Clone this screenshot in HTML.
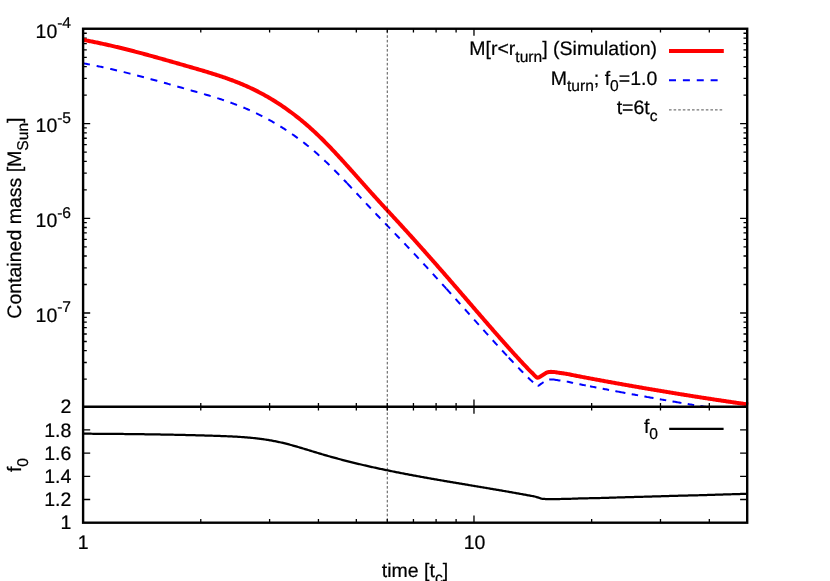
<!DOCTYPE html>
<html><head><meta charset="utf-8"><title>plot</title>
<style>
html,body{margin:0;padding:0;background:#fff;}
body{width:830px;height:581px;overflow:hidden;}
svg{display:block;will-change:transform;}
text{font-family:"Liberation Sans",sans-serif;font-size:19.5px;fill:#000;stroke:#000;stroke-width:0.22px;text-rendering:geometricPrecision;}
</style></head><body>
<svg width="830" height="581" viewBox="0 0 830 581">
<rect width="830" height="581" fill="#fff"/>
<clipPath id="c1"><rect x="83.1" y="28.75" width="667.1" height="377.95"/></clipPath>
<!-- ticks -->
<g stroke="#000" stroke-width="1.3" fill="none">
<path d="M83.10,28.75 v7.1 M83.10,399.60 v14.2 M83.10,522.7 v-7.1 M200.77,28.75 v3.7 M200.77,403.00 v7.4 M200.77,522.7 v-3.7 M269.60,28.75 v3.7 M269.60,403.00 v7.4 M269.60,522.7 v-3.7 M318.44,28.75 v3.7 M318.44,403.00 v7.4 M318.44,522.7 v-3.7 M356.32,28.75 v3.7 M356.32,403.00 v7.4 M356.32,522.7 v-3.7 M387.27,28.75 v3.7 M387.27,403.00 v7.4 M387.27,522.7 v-3.7 M413.44,28.75 v3.7 M413.44,403.00 v7.4 M413.44,522.7 v-3.7 M436.10,28.75 v3.7 M436.10,403.00 v7.4 M436.10,522.7 v-3.7 M456.10,28.75 v3.7 M456.10,403.00 v7.4 M456.10,522.7 v-3.7 M473.98,28.75 v7.1 M473.98,399.60 v14.2 M473.98,522.7 v-7.1 M591.65,28.75 v3.7 M591.65,403.00 v7.4 M591.65,522.7 v-3.7 M660.48,28.75 v3.7 M660.48,403.00 v7.4 M660.48,522.7 v-3.7 M709.32,28.75 v3.7 M709.32,403.00 v7.4 M709.32,522.7 v-3.7 M747.20,28.75 v3.7 M747.20,403.00 v7.4 M747.20,522.7 v-3.7 M83.1,123.60 h7.1 M747.2,123.60 h-7.1 M83.1,95.09 h3.7 M747.2,95.09 h-3.7 M83.1,78.42 h3.7 M747.2,78.42 h-3.7 M83.1,66.58 h3.7 M747.2,66.58 h-3.7 M83.1,57.41 h3.7 M747.2,57.41 h-3.7 M83.1,49.91 h3.7 M747.2,49.91 h-3.7 M83.1,43.57 h3.7 M747.2,43.57 h-3.7 M83.1,38.08 h3.7 M747.2,38.08 h-3.7 M83.1,33.23 h3.7 M747.2,33.23 h-3.7 M83.1,218.30 h7.1 M747.2,218.30 h-7.1 M83.1,189.79 h3.7 M747.2,189.79 h-3.7 M83.1,173.12 h3.7 M747.2,173.12 h-3.7 M83.1,161.28 h3.7 M747.2,161.28 h-3.7 M83.1,152.11 h3.7 M747.2,152.11 h-3.7 M83.1,144.61 h3.7 M747.2,144.61 h-3.7 M83.1,138.27 h3.7 M747.2,138.27 h-3.7 M83.1,132.78 h3.7 M747.2,132.78 h-3.7 M83.1,127.93 h3.7 M747.2,127.93 h-3.7 M83.1,313.00 h7.1 M747.2,313.00 h-7.1 M83.1,284.49 h3.7 M747.2,284.49 h-3.7 M83.1,267.82 h3.7 M747.2,267.82 h-3.7 M83.1,255.98 h3.7 M747.2,255.98 h-3.7 M83.1,246.81 h3.7 M747.2,246.81 h-3.7 M83.1,239.31 h3.7 M747.2,239.31 h-3.7 M83.1,232.97 h3.7 M747.2,232.97 h-3.7 M83.1,227.48 h3.7 M747.2,227.48 h-3.7 M83.1,222.63 h3.7 M747.2,222.63 h-3.7 M83.1,379.19 h3.7 M747.2,379.19 h-3.7 M83.1,362.52 h3.7 M747.2,362.52 h-3.7 M83.1,350.68 h3.7 M747.2,350.68 h-3.7 M83.1,341.51 h3.7 M747.2,341.51 h-3.7 M83.1,334.01 h3.7 M747.2,334.01 h-3.7 M83.1,327.67 h3.7 M747.2,327.67 h-3.7 M83.1,322.18 h3.7 M747.2,322.18 h-3.7 M83.1,317.33 h3.7 M747.2,317.33 h-3.7 M83.1,499.50 h7.1 M747.2,499.50 h-7.1 M83.1,476.30 h7.1 M747.2,476.30 h-7.1 M83.1,453.10 h7.1 M747.2,453.10 h-7.1 M83.1,429.90 h7.1 M747.2,429.90 h-7.1"/>
</g>
<!-- curves -->
<g fill="none" stroke-linejoin="round">
<g stroke="#0000ff" stroke-width="2.0" clip-path="url(#c1)">
<path d="M83.0,63.27 L84.0,63.45 L85.0,63.64 L86.0,63.82 L87.0,64.01 L88.0,64.20 L89.0,64.39 L90.0,64.58 L91.0,64.78 L92.0,64.97 L93.0,65.17 L94.0,65.37 L95.0,65.57 L96.0,65.78 L97.0,65.98 L98.0,66.19 L99.0,66.40 L100.0,66.61 L101.0,66.82 L102.0,67.04 L103.0,67.25 L104.0,67.47 L105.0,67.69 L106.0,67.91 L107.0,68.13 L108.0,68.36 L109.0,68.58 L110.0,68.81 L111.0,69.04 L112.0,69.27 L113.0,69.50 L114.0,69.73 L115.0,69.96 L116.0,70.20 L117.0,70.44 L118.0,70.67 L119.0,70.91 L120.0,71.15 L121.0,71.40 L122.0,71.64 L123.0,71.88 L124.0,72.13 L125.0,72.38 L126.0,72.62 L127.0,72.87 L128.0,73.12 L129.0,73.38 L130.0,73.63 L131.0,73.88 L132.0,74.14 L133.0,74.39 L134.0,74.65 L135.0,74.91 L136.0,75.17 L137.0,75.43 L138.0,75.69 L139.0,75.95 L140.0,76.21 L141.0,76.48 L142.0,76.74 L143.0,77.01 L144.0,77.27 L145.0,77.54 L146.0,77.81 L147.0,78.08 L148.0,78.34 L149.0,78.61 L150.0,78.89 L151.0,79.16 L152.0,79.43 L153.0,79.70 L154.0,79.98 L155.0,80.25 L156.0,80.53 L157.0,80.80 L158.0,81.08 L159.0,81.35 L160.0,81.63 L161.0,81.91 L162.0,82.19 L163.0,82.46 L164.0,82.74 L165.0,83.02 L166.0,83.30 L167.0,83.58 L168.0,83.86 L169.0,84.15 L170.0,84.43 L171.0,84.71 L172.0,84.99 L173.0,85.27 L174.0,85.56 L175.0,85.84 L176.0,86.12 L177.0,86.40 L178.0,86.69 L179.0,86.97 L180.0,87.26 L181.0,87.54 L182.0,87.82 L183.0,88.11 L184.0,88.39 L185.0,88.68 L186.0,88.96 L187.0,89.24 L188.0,89.53 L189.0,89.81 L190.0,90.10 L191.0,90.38 L192.0,90.67 L193.0,90.95 L194.0,91.23 L195.0,91.52 L196.0,91.80 L197.0,92.09 L198.0,92.37 L199.0,92.66 L200.0,92.95 L201.0,93.23 L202.0,93.52 L203.0,93.81 L204.0,94.10 L205.0,94.40 L206.0,94.69 L207.0,94.99 L208.0,95.28 L209.0,95.58 L210.0,95.88 L211.0,96.18 L212.0,96.49 L213.0,96.79 L214.0,97.10 L215.0,97.41 L216.0,97.72 L217.0,98.04 L218.0,98.35 L219.0,98.67 L220.0,99.00 L221.0,99.32 L222.0,99.65 L223.0,99.98 L224.0,100.31 L225.0,100.65 L226.0,100.99 L227.0,101.34 L228.0,101.68 L229.0,102.03 L230.0,102.39 L231.0,102.75 L232.0,103.11 L233.0,103.47 L234.0,103.84 L235.0,104.22 L236.0,104.59 L237.0,104.97 L238.0,105.36 L239.0,105.75 L240.0,106.14 L241.0,106.54 L242.0,106.94 L243.0,107.35 L244.0,107.77 L245.0,108.18 L246.0,108.60 L247.0,109.03 L248.0,109.46 L249.0,109.90 L250.0,110.34 L251.0,110.79 L252.0,111.25 L253.0,111.70 L254.0,112.17 L255.0,112.64 L256.0,113.11 L257.0,113.59 L258.0,114.08 L259.0,114.57 L260.0,115.07 L261.0,115.57 L262.0,116.08 L263.0,116.59 L264.0,117.11 L265.0,117.64 L266.0,118.17 L267.0,118.71 L268.0,119.25 L269.0,119.80 L270.0,120.35 L271.0,120.91 L272.0,121.47 L273.0,122.05 L274.0,122.62 L275.0,123.20 L276.0,123.79 L277.0,124.39 L278.0,124.99 L279.0,125.59 L280.0,126.20 L281.0,126.82 L282.0,127.45 L283.0,128.08 L284.0,128.71 L285.0,129.35 L286.0,130.00 L287.0,130.66 L288.0,131.32 L289.0,131.99 L290.0,132.66 L291.0,133.34 L292.0,134.03 L293.0,134.72 L294.0,135.42 L295.0,136.13 L296.0,136.85 L297.0,137.57 L298.0,138.30 L299.0,139.03 L300.0,139.78 L301.0,140.53 L302.0,141.28 L303.0,142.05 L304.0,142.82 L305.0,143.60 L306.0,144.39 L307.0,145.19 L308.0,145.99 L309.0,146.81 L310.0,147.63 L311.0,148.45 L312.0,149.29 L313.0,150.14 L314.0,150.99 L315.0,151.85 L316.0,152.72 L317.0,153.60 L318.0,154.49 L319.0,155.38 L320.0,156.29 L321.0,157.20 L322.0,158.12 L323.0,159.05 L324.0,159.98 L325.0,160.92 L326.0,161.87 L327.0,162.83 L328.0,163.79 L329.0,164.76 L330.0,165.74 L331.0,166.72 L332.0,167.71 L333.0,168.70 L334.0,169.70 L335.0,170.71 L336.0,171.72 L337.0,172.73 L338.0,173.75 L339.0,174.78 L340.0,175.80 L341.0,176.84 L342.0,177.87 L343.0,178.91 L344.0,179.95 L345.0,181.00 L346.0,182.05 L347.0,183.10" stroke-dasharray="7 6.88"/>
<path d="M347.0,183.10 L348.0,184.16 L349.0,185.21 L350.0,186.27 L351.0,187.34 L352.0,188.40 L353.0,189.46 L354.0,190.53 L355.0,191.60 L356.0,192.66 L357.0,193.73 L358.0,194.80 L359.0,195.87 L360.0,196.94 L361.0,198.01 L362.0,199.08 L363.0,200.15 L364.0,201.22 L365.0,202.29 L366.0,203.35 L367.0,204.42 L368.0,205.48 L369.0,206.54 L370.0,207.60 L371.0,208.66 L372.0,209.72 L373.0,210.77 L374.0,211.82 L375.0,212.87 L376.0,213.92 L377.0,214.96 L378.0,216.01 L379.0,217.05 L380.0,218.09 L381.0,219.13 L382.0,220.16 L383.0,221.20 L384.0,222.24 L385.0,223.27 L386.0,224.31 L387.0,225.34 L388.0,226.37 L389.0,227.41 L390.0,228.44 L391.0,229.48 L392.0,230.51 L393.0,231.54 L394.0,232.58 L395.0,233.61 L396.0,234.65 L397.0,235.69 L398.0,236.73 L399.0,237.76 L400.0,238.81 L401.0,239.85 L402.0,240.89 L403.0,241.94 L404.0,242.99 L405.0,244.03 L406.0,245.09 L407.0,246.14 L408.0,247.19 L409.0,248.25 L410.0,249.31 L411.0,250.37 L412.0,251.43 L413.0,252.49 L414.0,253.55 L415.0,254.62 L416.0,255.69 L417.0,256.76 L418.0,257.83 L419.0,258.90 L420.0,259.97 L421.0,261.04 L422.0,262.12 L423.0,263.20 L424.0,264.28 L425.0,265.36 L426.0,266.44 L427.0,267.52 L428.0,268.60 L429.0,269.69 L430.0,270.78 L431.0,271.86 L432.0,272.95 L433.0,274.04 L434.0,275.13 L435.0,276.23 L436.0,277.32 L437.0,278.41 L438.0,279.51 L439.0,280.61 L440.0,281.70 L441.0,282.80 L442.0,283.90 L443.0,285.00 L444.0,286.10 L445.0,287.20 L446.0,288.31 L446.3,288.64" stroke-dasharray="7 6.88"/>
<path d="M446.3,288.64 L447.0,289.41 L448.0,290.52 L449.0,291.62 L450.0,292.73 L451.0,293.84 L452.0,294.94 L453.0,296.05 L454.0,297.16 L455.0,298.27 L456.0,299.38 L457.0,300.50 L458.0,301.61 L459.0,302.72 L460.0,303.83 L461.0,304.95 L462.0,306.06 L463.0,307.18 L464.0,308.29 L465.0,309.41 L466.0,310.53 L467.0,311.64 L468.0,312.76 L469.0,313.87 L470.0,314.99 L471.0,316.11 L472.0,317.22 L473.0,318.34 L474.0,319.46 L475.0,320.57 L476.0,321.69 L477.0,322.80 L478.0,323.92 L479.0,325.03 L480.0,326.14 L481.0,327.26 L482.0,328.37 L483.0,329.48 L484.0,330.59 L485.0,331.70 L486.0,332.81 L487.0,333.91 L488.0,335.02 L489.0,336.13 L490.0,337.23 L491.0,338.33 L492.0,339.43 L493.0,340.53 L494.0,341.63 L495.0,342.73 L496.0,343.82 L497.0,344.91 L498.0,346.01 L499.0,347.10 L500.0,348.18 L501.0,349.27 L502.0,350.35 L503.0,351.43 L504.0,352.51 L505.0,353.59 L506.0,354.67 L507.0,355.74 L508.0,356.81 L508.7,357.56" stroke-dasharray="7 6.88"/>
<path d="M508.7,357.56 L509.0,357.88 L510.0,358.94 L511.0,360.00 L512.0,361.06 L513.0,362.12 L514.0,363.18 L515.0,364.23 L516.0,365.28 L517.0,366.32 L518.0,367.36 L519.0,368.40 L520.0,369.44 L521.0,370.47 L522.0,371.50 L523.0,372.52 L524.0,373.54 L525.0,374.54 L526.0,375.54 L527.0,376.53 L528.0,377.51 L529.0,378.48 L530.0,379.43 L531.0,380.37 L532.0,381.30 L533.0,382.21 L534.0,383.24 L535.0,384.20 L536.0,385.06 L537.0,385.67 L537.7,385.79" stroke-dasharray="7 6.88"/>
<path d="M537.7,385.79 L538.0,385.85 L539.0,385.36 L540.0,384.66 L541.0,383.93 L542.0,383.21 L543.0,382.53 L544.0,381.88 L545.0,381.20 L546.0,380.57 L547.0,380.11 L548.0,379.81 L549.0,379.61 L550.0,379.50 L551.0,379.46 L552.0,379.48 L553.0,379.53 L554.0,379.61" stroke-dasharray="7 6.3"/>
<path d="M554.0,379.61 L555.0,379.75 L556.0,379.92 L557.0,380.10 L558.0,380.26 L559.0,380.41 L560.0,380.54 L561.0,380.68 L562.0,380.81 L563.0,380.95 L564.0,381.11 L565.0,381.27 L566.0,381.45 L567.0,381.63 L568.0,381.83 L569.0,382.02 L570.0,382.23 L571.0,382.44 L572.0,382.65 L573.0,382.87 L574.0,383.08 L575.0,383.30 L576.0,383.51 L577.0,383.72 L578.0,383.93 L579.0,384.13 L580.0,384.33 L581.0,384.52 L582.0,384.72 L583.0,384.92 L584.0,385.11 L585.0,385.31 L586.0,385.50 L587.0,385.70 L588.0,385.89 L589.0,386.09 L590.0,386.28" stroke-dasharray="6.5 6.4"/>
<path d="M590.0,386.28 L591.0,386.47 L592.0,386.66 L593.0,386.86 L594.0,387.05 L595.0,387.24 L596.0,387.43 L597.0,387.62 L598.0,387.82 L599.0,388.01 L600.0,388.20 L601.0,388.39 L602.0,388.58 L603.0,388.77 L604.0,388.97 L605.0,389.16 L606.0,389.35 L607.0,389.54 L608.0,389.73 L609.0,389.92 L610.0,390.11 L611.0,390.31 L612.0,390.50 L613.0,390.69 L614.0,390.88 L615.0,391.07 L616.0,391.26 L617.0,391.44 L618.0,391.63 L619.0,391.82" stroke-dasharray="6.5 6.4"/>
<path d="M619.0,391.82 L620.0,392.01 L621.0,392.20 L622.0,392.38 L623.0,392.57 L624.0,392.76 L625.0,392.94 L626.0,393.13 L627.0,393.31 L628.0,393.50 L629.0,393.68 L630.0,393.86 L631.0,394.05 L632.0,394.23 L633.0,394.41 L634.0,394.60 L635.0,394.78 L636.0,394.96 L637.0,395.14 L638.0,395.33 L639.0,395.51 L640.0,395.69 L641.0,395.87 L642.0,396.05 L643.0,396.23 L644.0,396.41 L645.0,396.59 L646.0,396.77 L647.0,396.95 L647.1,396.97" stroke-dasharray="6.5 6.4"/>
<path d="M647.1,396.97 L648.0,397.13 L649.0,397.31 L650.0,397.49 L651.0,397.66 L652.0,397.84 L653.0,398.02 L654.0,398.20 L655.0,398.38 L656.0,398.55 L657.0,398.73 L658.0,398.91 L659.0,399.08 L660.0,399.26 L661.0,399.43 L662.0,399.61 L663.0,399.78 L664.0,399.96 L665.0,400.13 L666.0,400.31 L667.0,400.48 L668.0,400.66 L669.0,400.83 L670.0,401.00 L671.0,401.18 L672.0,401.35 L673.0,401.52 L674.0,401.69 L675.0,401.86" stroke-dasharray="6.5 6.4"/>
<path d="M675.0,401.86 L676.0,402.03 L677.0,402.21 L678.0,402.38 L679.0,402.55 L680.0,402.71 L681.0,402.88 L682.0,403.05 L683.0,403.22 L684.0,403.39 L685.0,403.56 L686.0,403.72 L687.0,403.89 L688.0,404.06 L689.0,404.22 L690.0,404.39 L691.0,404.55 L692.0,404.72 L693.0,404.88 L694.0,405.05 L695.0,405.21 L696.0,405.38 L697.0,405.54 L698.0,405.70 L699.0,405.87 L700.0,406.03 L701.0,406.20 L702.0,406.36 L703.0,406.52 L704.0,406.69 L705.0,406.85 L706.0,407.01 L707.0,407.18 L708.0,407.34 L709.0,407.50 L710.0,407.66 L711.0,407.83 L712.0,407.99 L713.0,408.15 L714.0,408.31 L715.0,408.47 L716.0,408.63 L717.0,408.79 L718.0,408.95 L719.0,409.11 L720.0,409.27 L721.0,409.43 L722.0,409.59 L723.0,409.75 L724.0,409.91 L725.0,410.06 L726.0,410.22 L727.0,410.38 L728.0,410.54 L729.0,410.69 L730.0,410.85 L731.0,411.00 L732.0,411.16 L733.0,411.31 L734.0,411.47 L735.0,411.62 L736.0,411.78 L737.0,411.93 L738.0,412.09 L739.0,412.24 L740.0,412.39 L741.0,412.54 L742.0,412.70 L743.0,412.85 L744.0,413.00 L745.0,413.15 L746.0,413.31 L747.0,413.46 L748.0,413.60 L748.2,413.63" stroke-dasharray="6.5 6.4"/>
</g>
<path d="M83.0,39.85 L84.0,40.03 L85.0,40.22 L86.0,40.40 L87.0,40.59 L88.0,40.78 L89.0,40.98 L90.0,41.17 L91.0,41.37 L92.0,41.56 L93.0,41.76 L94.0,41.97 L95.0,42.17 L96.0,42.37 L97.0,42.58 L98.0,42.79 L99.0,43.00 L100.0,43.21 L101.0,43.43 L102.0,43.64 L103.0,43.86 L104.0,44.08 L105.0,44.30 L106.0,44.52 L107.0,44.74 L108.0,44.97 L109.0,45.20 L110.0,45.42 L111.0,45.65 L112.0,45.89 L113.0,46.12 L114.0,46.35 L115.0,46.59 L116.0,46.83 L117.0,47.06 L118.0,47.30 L119.0,47.55 L120.0,47.79 L121.0,48.03 L122.0,48.28 L123.0,48.52 L124.0,48.77 L125.0,49.02 L126.0,49.27 L127.0,49.52 L128.0,49.77 L129.0,50.03 L130.0,50.28 L131.0,50.54 L132.0,50.80 L133.0,51.05 L134.0,51.31 L135.0,51.57 L136.0,51.84 L137.0,52.10 L138.0,52.36 L139.0,52.63 L140.0,52.89 L141.0,53.16 L142.0,53.42 L143.0,53.69 L144.0,53.96 L145.0,54.23 L146.0,54.50 L147.0,54.77 L148.0,55.05 L149.0,55.32 L150.0,55.59 L151.0,55.87 L152.0,56.14 L153.0,56.42 L154.0,56.70 L155.0,56.97 L156.0,57.25 L157.0,57.53 L158.0,57.81 L159.0,58.09 L160.0,58.37 L161.0,58.65 L162.0,58.93 L163.0,59.21 L164.0,59.50 L165.0,59.78 L166.0,60.06 L167.0,60.35 L168.0,60.63 L169.0,60.92 L170.0,61.20 L171.0,61.49 L172.0,61.77 L173.0,62.06 L174.0,62.35 L175.0,62.63 L176.0,62.92 L177.0,63.21 L178.0,63.50 L179.0,63.79 L180.0,64.07 L181.0,64.36 L182.0,64.65 L183.0,64.94 L184.0,65.23 L185.0,65.52 L186.0,65.81 L187.0,66.09 L188.0,66.38 L189.0,66.67 L190.0,66.96 L191.0,67.25 L192.0,67.54 L193.0,67.83 L194.0,68.12 L195.0,68.41 L196.0,68.70 L197.0,68.99 L198.0,69.28 L199.0,69.57 L200.0,69.86 L201.0,70.16 L202.0,70.45 L203.0,70.75 L204.0,71.04 L205.0,71.34 L206.0,71.64 L207.0,71.94 L208.0,72.25 L209.0,72.55 L210.0,72.86 L211.0,73.16 L212.0,73.47 L213.0,73.79 L214.0,74.10 L215.0,74.42 L216.0,74.74 L217.0,75.06 L218.0,75.38 L219.0,75.71 L220.0,76.04 L221.0,76.37 L222.0,76.71 L223.0,77.04 L224.0,77.39 L225.0,77.73 L226.0,78.08 L227.0,78.43 L228.0,78.79 L229.0,79.15 L230.0,79.51 L231.0,79.88 L232.0,80.25 L233.0,80.62 L234.0,81.00 L235.0,81.39 L236.0,81.78 L237.0,82.17 L238.0,82.57 L239.0,82.97 L240.0,83.38 L241.0,83.79 L242.0,84.21 L243.0,84.63 L244.0,85.06 L245.0,85.49 L246.0,85.93 L247.0,86.37 L248.0,86.82 L249.0,87.28 L250.0,87.74 L251.0,88.21 L252.0,88.68 L253.0,89.16 L254.0,89.64 L255.0,90.14 L256.0,90.63 L257.0,91.14 L258.0,91.65 L259.0,92.16 L260.0,92.69 L261.0,93.22 L262.0,93.75 L263.0,94.30 L264.0,94.84 L265.0,95.40 L266.0,95.96 L267.0,96.53 L268.0,97.10 L269.0,97.69 L270.0,98.28 L271.0,98.87 L272.0,99.47 L273.0,100.08 L274.0,100.70 L275.0,101.32 L276.0,101.95 L277.0,102.59 L278.0,103.23 L279.0,103.88 L280.0,104.54 L281.0,105.20 L282.0,105.88 L283.0,106.56 L284.0,107.24 L285.0,107.94 L286.0,108.64 L287.0,109.34 L288.0,110.06 L289.0,110.78 L290.0,111.51 L291.0,112.25 L292.0,113.00 L293.0,113.75 L294.0,114.51 L295.0,115.28 L296.0,116.06 L297.0,116.84 L298.0,117.63 L299.0,118.43 L300.0,119.24 L301.0,120.05 L302.0,120.88 L303.0,121.71 L304.0,122.55 L305.0,123.39 L306.0,124.25 L307.0,125.11 L308.0,125.98 L309.0,126.86 L310.0,127.75 L311.0,128.64 L312.0,129.55 L313.0,130.46 L314.0,131.38 L315.0,132.31 L316.0,133.24 L317.0,134.19 L318.0,135.14 L319.0,136.11 L320.0,137.08 L321.0,138.05 L322.0,139.04 L323.0,140.03 L324.0,141.03 L325.0,142.04 L326.0,143.06 L327.0,144.08 L328.0,145.10 L329.0,146.14 L330.0,147.18 L331.0,148.22 L332.0,149.27 L333.0,150.33 L334.0,151.39 L335.0,152.46 L336.0,153.53 L337.0,154.61 L338.0,155.69 L339.0,156.77 L340.0,157.86 L341.0,158.96 L342.0,160.05 L343.0,161.15 L344.0,162.25 L345.0,163.36 L346.0,164.47 L347.0,165.58 L348.0,166.69 L349.0,167.81 L350.0,168.93 L351.0,170.05 L352.0,171.17 L353.0,172.29 L354.0,173.41 L355.0,174.54 L356.0,175.66 L357.0,176.79 L358.0,177.92 L359.0,179.04 L360.0,180.17 L361.0,181.29 L362.0,182.42 L363.0,183.54 L364.0,184.67 L365.0,185.79 L366.0,186.91 L367.0,188.03 L368.0,189.15 L369.0,190.26 L370.0,191.38 L371.0,192.49 L372.0,193.60 L373.0,194.70 L374.0,195.81 L375.0,196.91 L376.0,198.01 L377.0,199.11 L378.0,200.20 L379.0,201.30 L380.0,202.39 L381.0,203.48 L382.0,204.57 L383.0,205.66 L384.0,206.74 L385.0,207.83 L386.0,208.91 L387.0,210.00 L388.0,211.08 L389.0,212.17 L390.0,213.25 L391.0,214.33 L392.0,215.42 L393.0,216.50 L394.0,217.59 L395.0,218.67 L396.0,219.76 L397.0,220.84 L398.0,221.93 L399.0,223.02 L400.0,224.11 L401.0,225.20 L402.0,226.29 L403.0,227.38 L404.0,228.48 L405.0,229.58 L406.0,230.67 L407.0,231.77 L408.0,232.88 L409.0,233.98 L410.0,235.08 L411.0,236.19 L412.0,237.30 L413.0,238.41 L414.0,239.52 L415.0,240.63 L416.0,241.75 L417.0,242.86 L418.0,243.98 L419.0,245.09 L420.0,246.21 L421.0,247.33 L422.0,248.46 L423.0,249.58 L424.0,250.70 L425.0,251.83 L426.0,252.96 L427.0,254.08 L428.0,255.21 L429.0,256.34 L430.0,257.48 L431.0,258.61 L432.0,259.74 L433.0,260.88 L434.0,262.01 L435.0,263.15 L436.0,264.29 L437.0,265.43 L438.0,266.57 L439.0,267.71 L440.0,268.85 L441.0,270.00 L442.0,271.14 L443.0,272.29 L444.0,273.43 L445.0,274.58 L446.0,275.73 L447.0,276.88 L448.0,278.02 L449.0,279.17 L450.0,280.33 L451.0,281.48 L452.0,282.63 L453.0,283.78 L454.0,284.94 L455.0,286.09 L456.0,287.25 L457.0,288.40 L458.0,289.56 L459.0,290.72 L460.0,291.88 L461.0,293.04 L462.0,294.19 L463.0,295.35 L464.0,296.51 L465.0,297.67 L466.0,298.84 L467.0,300.00 L468.0,301.16 L469.0,302.32 L470.0,303.48 L471.0,304.64 L472.0,305.80 L473.0,306.96 L474.0,308.13 L475.0,309.29 L476.0,310.45 L477.0,311.61 L478.0,312.77 L479.0,313.93 L480.0,315.09 L481.0,316.24 L482.0,317.40 L483.0,318.56 L484.0,319.71 L485.0,320.87 L486.0,322.02 L487.0,323.18 L488.0,324.33 L489.0,325.48 L490.0,326.63 L491.0,327.78 L492.0,328.93 L493.0,330.07 L494.0,331.22 L495.0,332.36 L496.0,333.50 L497.0,334.64 L498.0,335.78 L499.0,336.92 L500.0,338.05 L501.0,339.19 L502.0,340.32 L503.0,341.45 L504.0,342.58 L505.0,343.70 L506.0,344.82 L507.0,345.95 L508.0,347.06 L509.0,348.18 L510.0,349.30 L511.0,350.41 L512.0,351.52 L513.0,352.62 L514.0,353.73 L515.0,354.83 L516.0,355.93 L517.0,357.02 L518.0,358.12 L519.0,359.21 L520.0,360.30 L521.0,361.38 L522.0,362.46 L523.0,363.53 L524.0,364.60 L525.0,365.66 L526.0,366.71 L527.0,367.75 L528.0,368.78 L529.0,369.80 L530.0,370.81 L531.0,371.80 L532.0,372.78 L533.0,373.75 L534.0,374.83 L535.0,375.86 L536.0,376.80 L537.0,377.50 L538.0,377.76 L539.0,377.36 L540.0,376.76 L541.0,376.12 L542.0,375.48 L543.0,374.83 L544.0,374.21 L545.0,373.56 L546.0,372.94 L547.0,372.48 L548.0,372.19 L549.0,372.00 L550.0,371.89 L551.0,371.85 L552.0,371.88 L553.0,371.93 L554.0,372.01 L555.0,372.14 L556.0,372.30 L557.0,372.48 L558.0,372.64 L559.0,372.77 L560.0,372.90 L561.0,373.03 L562.0,373.16 L563.0,373.29 L564.0,373.44 L565.0,373.60 L566.0,373.77 L567.0,373.95 L568.0,374.14 L569.0,374.33 L570.0,374.52 L571.0,374.73 L572.0,374.93 L573.0,375.13 L574.0,375.34 L575.0,375.54 L576.0,375.75 L577.0,375.94 L578.0,376.14 L579.0,376.33 L580.0,376.52 L581.0,376.71 L582.0,376.90 L583.0,377.09 L584.0,377.28 L585.0,377.47 L586.0,377.65 L587.0,377.84 L588.0,378.03 L589.0,378.22 L590.0,378.40 L591.0,378.59 L592.0,378.78 L593.0,378.97 L594.0,379.15 L595.0,379.34 L596.0,379.52 L597.0,379.71 L598.0,379.89 L599.0,380.08 L600.0,380.26 L601.0,380.45 L602.0,380.63 L603.0,380.82 L604.0,381.00 L605.0,381.18 L606.0,381.36 L607.0,381.55 L608.0,381.73 L609.0,381.91 L610.0,382.09 L611.0,382.27 L612.0,382.46 L613.0,382.64 L614.0,382.82 L615.0,383.00 L616.0,383.18 L617.0,383.36 L618.0,383.54 L619.0,383.72 L620.0,383.89 L621.0,384.07 L622.0,384.25 L623.0,384.43 L624.0,384.61 L625.0,384.78 L626.0,384.96 L627.0,385.14 L628.0,385.32 L629.0,385.49 L630.0,385.67 L631.0,385.84 L632.0,386.02 L633.0,386.19 L634.0,386.37 L635.0,386.54 L636.0,386.72 L637.0,386.89 L638.0,387.07 L639.0,387.24 L640.0,387.41 L641.0,387.59 L642.0,387.76 L643.0,387.93 L644.0,388.10 L645.0,388.27 L646.0,388.45 L647.0,388.62 L648.0,388.79 L649.0,388.96 L650.0,389.13 L651.0,389.30 L652.0,389.47 L653.0,389.64 L654.0,389.81 L655.0,389.98 L656.0,390.15 L657.0,390.31 L658.0,390.48 L659.0,390.65 L660.0,390.82 L661.0,390.98 L662.0,391.15 L663.0,391.32 L664.0,391.48 L665.0,391.65 L666.0,391.82 L667.0,391.98 L668.0,392.15 L669.0,392.31 L670.0,392.48 L671.0,392.64 L672.0,392.81 L673.0,392.97 L674.0,393.13 L675.0,393.30 L676.0,393.46 L677.0,393.62 L678.0,393.78 L679.0,393.95 L680.0,394.11 L681.0,394.27 L682.0,394.43 L683.0,394.59 L684.0,394.75 L685.0,394.91 L686.0,395.07 L687.0,395.23 L688.0,395.39 L689.0,395.55 L690.0,395.71 L691.0,395.87 L692.0,396.03 L693.0,396.19 L694.0,396.35 L695.0,396.50 L696.0,396.66 L697.0,396.82 L698.0,396.97 L699.0,397.13 L700.0,397.29 L701.0,397.44 L702.0,397.60 L703.0,397.75 L704.0,397.91 L705.0,398.06 L706.0,398.22 L707.0,398.37 L708.0,398.53 L709.0,398.68 L710.0,398.83 L711.0,398.99 L712.0,399.14 L713.0,399.29 L714.0,399.44 L715.0,399.60 L716.0,399.75 L717.0,399.90 L718.0,400.05 L719.0,400.20 L720.0,400.35 L721.0,400.50 L722.0,400.65 L723.0,400.80 L724.0,400.95 L725.0,401.10 L726.0,401.25 L727.0,401.40 L728.0,401.55 L729.0,401.69 L730.0,401.84 L731.0,401.99 L732.0,402.14 L733.0,402.28 L734.0,402.43 L735.0,402.58 L736.0,402.72 L737.0,402.87 L738.0,403.01 L739.0,403.16 L740.0,403.30 L741.0,403.45 L742.0,403.59 L743.0,403.73 L744.0,403.88 L745.0,404.02 L746.0,404.17 L747.0,404.31 L748.0,404.45 L748.2,404.48" stroke="#ff0000" stroke-width="4.0" clip-path="url(#c1)"/>
<path d="M83.0,433.70 L84.0,433.71 L85.0,433.71 L86.0,433.72 L87.0,433.72 L88.0,433.73 L89.0,433.73 L90.0,433.74 L91.0,433.74 L92.0,433.75 L93.0,433.76 L94.0,433.76 L95.0,433.77 L96.0,433.77 L97.0,433.78 L98.0,433.79 L99.0,433.79 L100.0,433.80 L101.0,433.81 L102.0,433.82 L103.0,433.82 L104.0,433.83 L105.0,433.84 L106.0,433.84 L107.0,433.85 L108.0,433.86 L109.0,433.87 L110.0,433.88 L111.0,433.88 L112.0,433.89 L113.0,433.90 L114.0,433.91 L115.0,433.92 L116.0,433.93 L117.0,433.94 L118.0,433.95 L119.0,433.96 L120.0,433.96 L121.0,433.97 L122.0,433.98 L123.0,433.99 L124.0,434.00 L125.0,434.01 L126.0,434.02 L127.0,434.04 L128.0,434.05 L129.0,434.06 L130.0,434.07 L131.0,434.08 L132.0,434.09 L133.0,434.10 L134.0,434.11 L135.0,434.13 L136.0,434.14 L137.0,434.15 L138.0,434.16 L139.0,434.18 L140.0,434.19 L141.0,434.20 L142.0,434.22 L143.0,434.23 L144.0,434.24 L145.0,434.26 L146.0,434.27 L147.0,434.28 L148.0,434.30 L149.0,434.31 L150.0,434.33 L151.0,434.34 L152.0,434.36 L153.0,434.37 L154.0,434.39 L155.0,434.41 L156.0,434.42 L157.0,434.44 L158.0,434.45 L159.0,434.47 L160.0,434.49 L161.0,434.51 L162.0,434.52 L163.0,434.54 L164.0,434.56 L165.0,434.58 L166.0,434.60 L167.0,434.61 L168.0,434.63 L169.0,434.65 L170.0,434.67 L171.0,434.69 L172.0,434.71 L173.0,434.73 L174.0,434.75 L175.0,434.77 L176.0,434.79 L177.0,434.81 L178.0,434.83 L179.0,434.86 L180.0,434.88 L181.0,434.90 L182.0,434.92 L183.0,434.94 L184.0,434.97 L185.0,434.99 L186.0,435.01 L187.0,435.04 L188.0,435.06 L189.0,435.09 L190.0,435.11 L191.0,435.14 L192.0,435.16 L193.0,435.19 L194.0,435.21 L195.0,435.24 L196.0,435.26 L197.0,435.29 L198.0,435.32 L199.0,435.34 L200.0,435.37 L201.0,435.40 L202.0,435.43 L203.0,435.45 L204.0,435.48 L205.0,435.51 L206.0,435.54 L207.0,435.57 L208.0,435.60 L209.0,435.63 L210.0,435.66 L211.0,435.69 L212.0,435.72 L213.0,435.75 L214.0,435.79 L215.0,435.82 L216.0,435.85 L217.0,435.88 L218.0,435.92 L219.0,435.95 L220.0,435.98 L221.0,436.02 L222.0,436.05 L223.0,436.09 L224.0,436.13 L225.0,436.17 L226.0,436.21 L227.0,436.25 L228.0,436.29 L229.0,436.33 L230.0,436.38 L231.0,436.43 L232.0,436.48 L233.0,436.53 L234.0,436.58 L235.0,436.63 L236.0,436.69 L237.0,436.74 L238.0,436.80 L239.0,436.87 L240.0,436.93 L241.0,437.00 L242.0,437.06 L243.0,437.14 L244.0,437.21 L245.0,437.29 L246.0,437.37 L247.0,437.45 L248.0,437.53 L249.0,437.62 L250.0,437.71 L251.0,437.81 L252.0,437.90 L253.0,438.00 L254.0,438.11 L255.0,438.21 L256.0,438.33 L257.0,438.44 L258.0,438.56 L259.0,438.68 L260.0,438.81 L261.0,438.94 L262.0,439.07 L263.0,439.21 L264.0,439.35 L265.0,439.50 L266.0,439.65 L267.0,439.80 L268.0,439.96 L269.0,440.13 L270.0,440.29 L271.0,440.47 L272.0,440.65 L273.0,440.83 L274.0,441.02 L275.0,441.21 L276.0,441.41 L277.0,441.61 L278.0,441.82 L279.0,442.04 L280.0,442.26 L281.0,442.48 L282.0,442.71 L283.0,442.95 L284.0,443.19 L285.0,443.43 L286.0,443.68 L287.0,443.94 L288.0,444.20 L289.0,444.46 L290.0,444.73 L291.0,445.00 L292.0,445.27 L293.0,445.55 L294.0,445.83 L295.0,446.11 L296.0,446.40 L297.0,446.69 L298.0,446.98 L299.0,447.27 L300.0,447.57 L301.0,447.87 L302.0,448.17 L303.0,448.47 L304.0,448.77 L305.0,449.07 L306.0,449.38 L307.0,449.68 L308.0,449.99 L309.0,450.30 L310.0,450.60 L311.0,450.91 L312.0,451.22 L313.0,451.52 L314.0,451.83 L315.0,452.13 L316.0,452.44 L317.0,452.74 L318.0,453.04 L319.0,453.34 L320.0,453.64 L321.0,453.94 L322.0,454.23 L323.0,454.53 L324.0,454.82 L325.0,455.11 L326.0,455.40 L327.0,455.68 L328.0,455.97 L329.0,456.25 L330.0,456.53 L331.0,456.81 L332.0,457.09 L333.0,457.37 L334.0,457.65 L335.0,457.92 L336.0,458.19 L337.0,458.46 L338.0,458.73 L339.0,459.00 L340.0,459.26 L341.0,459.53 L342.0,459.79 L343.0,460.05 L344.0,460.31 L345.0,460.57 L346.0,460.83 L347.0,461.08 L348.0,461.34 L349.0,461.59 L350.0,461.84 L351.0,462.09 L352.0,462.34 L353.0,462.59 L354.0,462.83 L355.0,463.08 L356.0,463.32 L357.0,463.56 L358.0,463.80 L359.0,464.04 L360.0,464.28 L361.0,464.52 L362.0,464.75 L363.0,464.98 L364.0,465.22 L365.0,465.45 L366.0,465.68 L367.0,465.91 L368.0,466.14 L369.0,466.36 L370.0,466.59 L371.0,466.81 L372.0,467.04 L373.0,467.26 L374.0,467.48 L375.0,467.70 L376.0,467.92 L377.0,468.13 L378.0,468.35 L379.0,468.57 L380.0,468.78 L381.0,468.99 L382.0,469.21 L383.0,469.42 L384.0,469.63 L385.0,469.84 L386.0,470.04 L387.0,470.25 L388.0,470.46 L389.0,470.66 L390.0,470.87 L391.0,471.07 L392.0,471.27 L393.0,471.48 L394.0,471.68 L395.0,471.88 L396.0,472.08 L397.0,472.27 L398.0,472.47 L399.0,472.67 L400.0,472.86 L401.0,473.06 L402.0,473.25 L403.0,473.45 L404.0,473.64 L405.0,473.83 L406.0,474.02 L407.0,474.21 L408.0,474.40 L409.0,474.59 L410.0,474.78 L411.0,474.97 L412.0,475.15 L413.0,475.34 L414.0,475.52 L415.0,475.71 L416.0,475.89 L417.0,476.08 L418.0,476.26 L419.0,476.44 L420.0,476.62 L421.0,476.81 L422.0,476.99 L423.0,477.17 L424.0,477.35 L425.0,477.52 L426.0,477.70 L427.0,477.88 L428.0,478.06 L429.0,478.24 L430.0,478.41 L431.0,478.59 L432.0,478.77 L433.0,478.94 L434.0,479.12 L435.0,479.29 L436.0,479.46 L437.0,479.64 L438.0,479.81 L439.0,479.99 L440.0,480.16 L441.0,480.33 L442.0,480.50 L443.0,480.67 L444.0,480.85 L445.0,481.02 L446.0,481.19 L447.0,481.36 L448.0,481.53 L449.0,481.70 L450.0,481.87 L451.0,482.04 L452.0,482.21 L453.0,482.38 L454.0,482.55 L455.0,482.72 L456.0,482.88 L457.0,483.05 L458.0,483.22 L459.0,483.39 L460.0,483.56 L461.0,483.73 L462.0,483.89 L463.0,484.06 L464.0,484.23 L465.0,484.40 L466.0,484.57 L467.0,484.73 L468.0,484.90 L469.0,485.07 L470.0,485.24 L471.0,485.40 L472.0,485.57 L473.0,485.74 L474.0,485.91 L475.0,486.07 L476.0,486.24 L477.0,486.41 L478.0,486.58 L479.0,486.74 L480.0,486.91 L481.0,487.08 L482.0,487.25 L483.0,487.42 L484.0,487.58 L485.0,487.75 L486.0,487.92 L487.0,488.09 L488.0,488.26 L489.0,488.43 L490.0,488.60 L491.0,488.77 L492.0,488.94 L493.0,489.11 L494.0,489.28 L495.0,489.45 L496.0,489.62 L497.0,489.79 L498.0,489.96 L499.0,490.13 L500.0,490.30 L501.0,490.47 L502.0,490.65 L503.0,490.82 L504.0,490.99 L505.0,491.17 L506.0,491.34 L507.0,491.51 L508.0,491.69 L509.0,491.86 L510.0,492.04 L511.0,492.21 L512.0,492.39 L513.0,492.57 L514.0,492.74 L515.0,492.92 L516.0,493.10 L517.0,493.28 L518.0,493.45 L519.0,493.63 L520.0,493.81 L521.0,493.99 L522.0,494.17 L523.0,494.36 L524.0,494.54 L525.0,494.72 L526.0,494.90 L527.0,495.09 L528.0,495.27 L529.0,495.45 L530.0,495.64 L531.0,495.83 L532.0,496.01 L533.0,496.20 L534.0,496.39 L534.6,496.50 L535.6,496.79 L536.6,497.08 L537.6,497.37 L538.6,497.66 L539.6,497.97 L540.6,498.32 L541.6,498.63 L542.6,498.81 L543.6,498.91 L544.6,498.98 L545.6,499.03 L546.6,499.06 L547.6,499.08 L548.6,499.10 L549.6,499.12 L550.6,499.13 L551.6,499.14 L552.6,499.15 L553.6,499.15 L554.6,499.14 L555.6,499.13 L556.6,499.10 L557.6,499.08 L558.6,499.05 L559.6,499.02 L560.6,499.00 L561.6,498.98 L562.6,498.96 L563.6,498.94 L564.6,498.92 L565.6,498.90 L566.6,498.88 L567.6,498.86 L568.6,498.84 L569.6,498.81 L570.6,498.78 L571.6,498.75 L572.6,498.72 L573.6,498.68 L574.6,498.64 L575.6,498.60 L576.6,498.56 L577.6,498.53 L578.6,498.49 L579.6,498.46 L580.6,498.43 L581.6,498.41 L582.6,498.38 L583.6,498.36 L584.6,498.34 L585.6,498.31 L586.6,498.29 L587.6,498.27 L588.6,498.25 L589.6,498.23 L590.6,498.21 L591.6,498.19 L592.6,498.17 L593.6,498.15 L594.6,498.13 L595.6,498.11 L596.6,498.09 L597.6,498.07 L598.6,498.05 L599.6,498.02 L600.6,498.00 L601.6,497.97 L602.6,497.94 L603.6,497.92 L604.6,497.89 L605.6,497.86 L606.6,497.83 L607.6,497.79 L608.6,497.76 L609.6,497.73 L610.6,497.70 L611.6,497.66 L612.6,497.63 L613.6,497.60 L614.6,497.57 L615.6,497.54 L616.6,497.50 L617.6,497.47 L618.6,497.44 L619.6,497.41 L620.6,497.38 L621.6,497.35 L622.6,497.32 L623.6,497.30 L624.6,497.27 L625.6,497.24 L626.6,497.21 L627.6,497.18 L628.6,497.16 L629.6,497.13 L630.6,497.10 L631.6,497.07 L632.6,497.05 L633.6,497.02 L634.6,496.99 L635.6,496.96 L636.6,496.94 L637.6,496.91 L638.6,496.88 L639.6,496.85 L640.6,496.83 L641.6,496.80 L642.6,496.77 L643.6,496.75 L644.6,496.72 L645.6,496.69 L646.6,496.66 L647.6,496.63 L648.6,496.61 L649.6,496.58 L650.6,496.55 L651.6,496.52 L652.6,496.49 L653.6,496.46 L654.6,496.43 L655.6,496.40 L656.6,496.37 L657.6,496.34 L658.6,496.31 L659.6,496.28 L660.6,496.26 L661.6,496.23 L662.6,496.20 L663.6,496.17 L664.6,496.14 L665.6,496.11 L666.6,496.08 L667.6,496.05 L668.6,496.02 L669.6,495.99 L670.6,495.96 L671.6,495.93 L672.6,495.90 L673.6,495.87 L674.6,495.85 L675.6,495.82 L676.6,495.79 L677.6,495.76 L678.6,495.74 L679.6,495.71 L680.6,495.68 L681.6,495.66 L682.6,495.63 L683.6,495.61 L684.6,495.58 L685.6,495.56 L686.6,495.54 L687.6,495.51 L688.6,495.49 L689.6,495.47 L690.6,495.44 L691.6,495.42 L692.6,495.40 L693.6,495.37 L694.6,495.35 L695.6,495.33 L696.6,495.30 L697.6,495.28 L698.6,495.25 L699.6,495.22 L700.6,495.20 L701.6,495.17 L702.6,495.14 L703.6,495.11 L704.6,495.08 L705.6,495.05 L706.6,495.02 L707.6,494.99 L708.6,494.96 L709.6,494.93 L710.6,494.90 L711.6,494.86 L712.6,494.83 L713.6,494.80 L714.6,494.77 L715.6,494.74 L716.6,494.70 L717.6,494.67 L718.6,494.64 L719.6,494.61 L720.6,494.58 L721.6,494.55 L722.6,494.52 L723.6,494.49 L724.6,494.46 L725.6,494.43 L726.6,494.40 L727.6,494.37 L728.6,494.34 L729.6,494.31 L730.6,494.28 L731.6,494.25 L732.6,494.22 L733.6,494.19 L734.6,494.17 L735.6,494.14 L736.6,494.11 L737.6,494.08 L738.6,494.05 L739.6,494.02 L740.6,493.99 L741.6,493.96 L742.6,493.93 L743.6,493.90 L744.6,493.87 L745.6,493.85 L746.6,493.82 L747.2,493.80" stroke="#000" stroke-width="2.25"/>
</g>
<!-- vertical dotted line t=6 -->
<line x1="387.27" y1="28.75" x2="387.27" y2="522.7" stroke="#000" stroke-width="1.0" stroke-dasharray="2.6 2" opacity="0.68" stroke-dashoffset="2.7"/>
<!-- frame -->
<g stroke="#000" stroke-width="2.4" fill="none" stroke-linejoin="miter">
<rect x="83.1" y="28.75" width="664.1" height="493.95000000000005"/>
<line x1="83.1" y1="406.7" x2="747.2" y2="406.7" stroke-width="2.5"/>
</g>
<!-- legend samples -->
<line x1="669.0" y1="50.9" x2="723.8" y2="50.9" stroke="#ff0000" stroke-width="4.0"/>
<line x1="669.0" y1="80.2" x2="723.8" y2="80.2" stroke="#0000ff" stroke-width="2.0" stroke-dasharray="7 6.88"/>
<line x1="669.0" y1="109.9" x2="723.8" y2="109.9" stroke="#000" stroke-width="1.0" stroke-dasharray="2.6 2" opacity="0.68"/>
<line x1="669.2" y1="428.8" x2="723.6" y2="428.8" stroke="#000" stroke-width="2.25"/>
<!-- legend text -->
<text x="657.1" y="55.3" text-anchor="end">M[r&lt;r<tspan font-size="15.6" dy="6.5">turn</tspan><tspan dy="-6.5">] (Simulation)</tspan></text>
<text x="657.3" y="84.8" text-anchor="end">M<tspan font-size="15.6" dy="6.5">turn</tspan><tspan dy="-6.5">; f</tspan><tspan font-size="15.6" dy="6.5">0</tspan><tspan dy="-6.5">=1.0</tspan></text>
<text x="657.5" y="114.2" text-anchor="end">t=6t<tspan font-size="15.6" dy="6.5">c</tspan></text>
<text x="658" y="432.9" text-anchor="end">f<tspan font-size="15.6" dy="6.5">0</tspan></text>
<!-- y tick labels top -->
<text x="57.3" y="37.7" text-anchor="end">10</text><text x="71" y="28.3" text-anchor="end" style="font-size:15.6px">-4</text>
<text x="57.3" y="132.4" text-anchor="end">10</text><text x="71" y="123.0" text-anchor="end" style="font-size:15.6px">-5</text>
<text x="57.3" y="227.1" text-anchor="end">10</text><text x="71" y="217.7" text-anchor="end" style="font-size:15.6px">-6</text>
<text x="57.3" y="321.8" text-anchor="end">10</text><text x="71" y="312.4" text-anchor="end" style="font-size:15.6px">-7</text>

<!-- y tick labels bottom -->
<g text-anchor="end">
<text x="71.3" y="413.4">2</text>
<text x="71.3" y="436.6">1.8</text>
<text x="71.3" y="459.8">1.6</text>
<text x="71.3" y="483.0">1.4</text>
<text x="71.3" y="506.2">1.2</text>
<text x="71.3" y="529.4">1</text>
</g>
<!-- x tick labels -->
<g text-anchor="middle">
<text x="83.1" y="549">1</text>
<text x="474.5" y="549">10</text>
<text x="415" y="576.5">time [t<tspan font-size="15.6" dy="6.5">c</tspan><tspan dy="-6.5">]</tspan></text>
</g>
<!-- y axis labels -->
<text transform="translate(21.3,218.1) rotate(-90)" text-anchor="middle">Contained mass [M<tspan font-size="15.6" dy="6.5">Sun</tspan><tspan dy="-6.5">]</tspan></text>
<text transform="translate(21.3,465) rotate(-90)" text-anchor="middle">f<tspan font-size="15.6" dy="6.5">0</tspan></text>
</svg>
</body></html>
